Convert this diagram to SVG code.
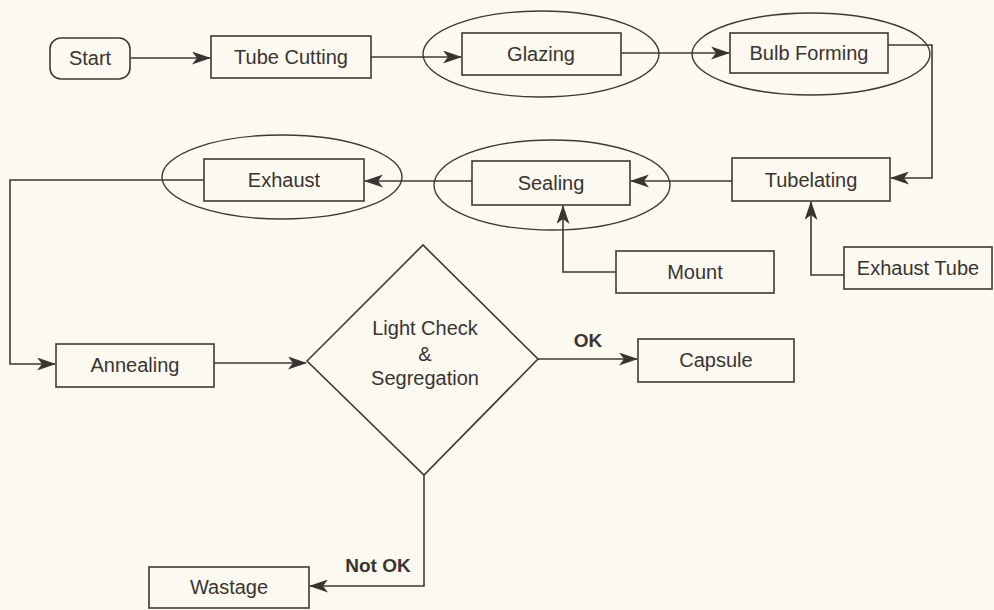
<svg xmlns="http://www.w3.org/2000/svg" width="994" height="610" viewBox="0 0 994 610">
<style>
.bg{fill:#fbf9f0}
.box{fill:none;stroke:#3f3935;stroke-width:1.6}
.ell{fill:none;stroke:#3f3935;stroke-width:1.4}
.ln{fill:none;stroke:#3f3935;stroke-width:1.6}
.t{font-family:"Liberation Sans",Arial,sans-serif;font-size:20px;fill:#3a3431;text-anchor:middle}
.b{font-family:"Liberation Sans",Arial,sans-serif;font-size:19px;font-weight:bold;fill:#3a3431;text-anchor:middle}
</style>
<defs>
<marker id="ah" markerUnits="userSpaceOnUse" markerWidth="19" markerHeight="13" refX="18" refY="6.5" orient="auto">
<path d="M0,0 L19,6.5 L0,13 L5,6.5 Z" fill="#3a3431"/>
</marker>
</defs>
<rect class="bg" x="0" y="0" width="994" height="610"/>
<g id="connectors">
<path class="ln" d="M131,58 H210" marker-end="url(#ah)"/>
<path class="ln" d="M371,57 H461" marker-end="url(#ah)"/>
<path class="ln" d="M621,53 H729" marker-end="url(#ah)"/>
<path class="ln" d="M888,45 H932 V178 H891" marker-end="url(#ah)"/>
<path class="ln" d="M732,181 H631" marker-end="url(#ah)"/>
<path class="ln" d="M472,181 H365" marker-end="url(#ah)"/>
<path class="ln" d="M204,180 H10 V364 H55" marker-end="url(#ah)"/>
<path class="ln" d="M616,272 H563 V206" marker-end="url(#ah)"/>
<path class="ln" d="M844,275 H811 V202" marker-end="url(#ah)"/>
<path class="ln" d="M214,363 H306" marker-end="url(#ah)"/>
<path class="ln" d="M538,359 H637" marker-end="url(#ah)"/>
<path class="ln" d="M424,475 V586 H310" marker-end="url(#ah)"/>
<text class="b" x="588" y="347">OK</text>
<text class="b" x="378" y="572">Not OK</text>
</g>
<g id="start">
<rect class="box" x="50" y="38" width="80" height="41" rx="11"/>
<text class="t" x="90" y="65">Start</text>
</g>
<g id="tube-cutting">
<rect class="box" x="211" y="36" width="160" height="42"/>
<text class="t" x="291" y="64">Tube Cutting</text>
</g>
<g id="glazing">
<ellipse class="ell" cx="541" cy="54" rx="118" ry="43"/>
<rect class="box" x="462" y="33" width="159" height="42"/>
<text class="t" x="541" y="61">Glazing</text>
</g>
<g id="bulb-forming">
<ellipse class="ell" cx="811" cy="54" rx="119" ry="41"/>
<rect class="box" x="730" y="33" width="158" height="40"/>
<text class="t" x="809" y="60">Bulb Forming</text>
</g>
<g id="tubelating">
<rect class="box" x="732" y="158" width="158" height="43"/>
<text class="t" x="811" y="187">Tubelating</text>
</g>
<g id="sealing">
<ellipse class="ell" cx="552" cy="185" rx="118" ry="45"/>
<rect class="box" x="472" y="161" width="158" height="44"/>
<text class="t" x="551" y="190">Sealing</text>
</g>
<g id="exhaust">
<ellipse class="ell" cx="282" cy="177" rx="120" ry="42"/>
<rect class="box" x="204" y="159" width="160" height="42"/>
<text class="t" x="284" y="187">Exhaust</text>
</g>
<g id="mount">
<rect class="box" x="616" y="251" width="158" height="42"/>
<text class="t" x="695" y="279">Mount</text>
</g>
<g id="exhaust-tube">
<rect class="box" x="844" y="247" width="148" height="42"/>
<text class="t" x="918" y="275">Exhaust Tube</text>
</g>
<g id="annealing">
<rect class="box" x="56" y="344" width="158" height="43"/>
<text class="t" x="135" y="372">Annealing</text>
</g>
<g id="light-check">
<polygon class="box" points="307,361 423,245 538,359 424,475"/>
<text class="t" x="425" y="335">Light Check</text>
<text class="t" x="425" y="361">&amp;</text>
<text class="t" x="425" y="385">Segregation</text>
</g>
<g id="capsule">
<rect class="box" x="638" y="339" width="156" height="43"/>
<text class="t" x="716" y="367">Capsule</text>
</g>
<g id="wastage">
<rect class="box" x="149" y="567" width="160" height="41"/>
<text class="t" x="229" y="594">Wastage</text>
</g>
</svg>
